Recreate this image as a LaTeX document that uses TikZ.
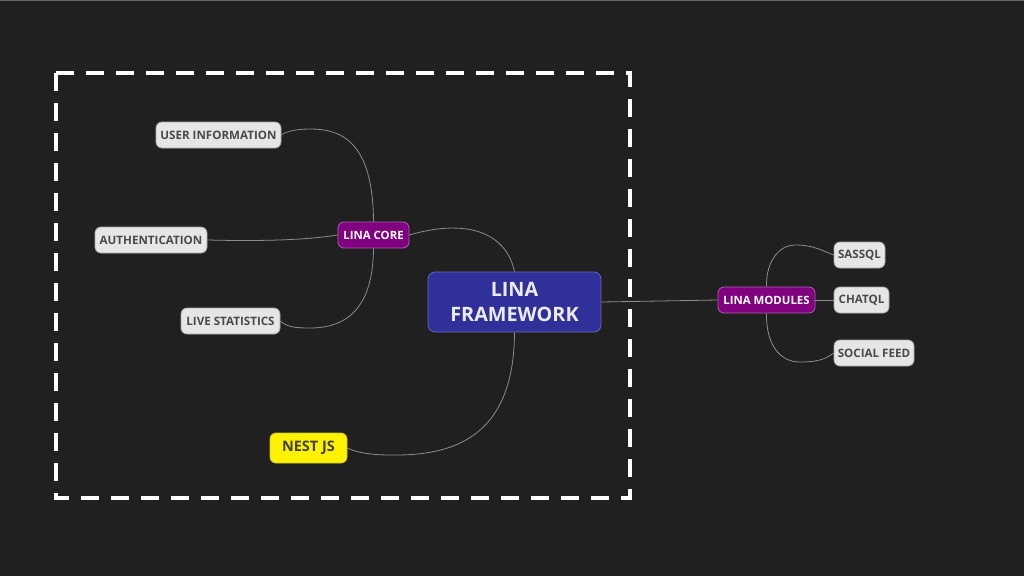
\documentclass[tikz,border=0pt]{standalone}
\usepackage{fontspec}
\setmainfont{Open Sans}
\definecolor{bg}{HTML}{202020}
\definecolor{leaf}{HTML}{E6E6E6}
\definecolor{leaftext}{HTML}{4A4A4A}
\definecolor{leafborder}{HTML}{A8A8A8}
\definecolor{purp}{HTML}{800080}
\definecolor{purpborder}{HTML}{B060B0}
\definecolor{navy}{HTML}{30309A}
\definecolor{navyborder}{HTML}{6868B8}
\definecolor{wire}{HTML}{8C8C8C}
\begin{document}
\begin{tikzpicture}[x=1pt,y=-1pt,
  leafbox/.style={draw=leafborder, line width=0.8pt, fill=leaf, rounded corners=6pt, text=leaftext, font=\bfseries\fontsize{11.6}{13}\selectfont, minimum height=26pt, inner xsep=3pt, inner ysep=0pt},
  hubbox/.style={draw=purpborder, line width=0.8pt, fill=purp, rounded corners=6pt, text=white, font=\bfseries\fontsize{11.4}{13}\selectfont, minimum height=26pt, inner xsep=3pt, inner ysep=0pt},
  rootbox/.style={draw=navyborder, line width=0.8pt, fill=navy, rounded corners=7pt, text=white!92!black, font=\bfseries\fontsize{19.8}{25}\selectfont, align=center, minimum width=173pt, minimum height=60pt, inner sep=0pt},
  nestbox/.style={draw=yellow!80!black, line width=0.8pt, fill=yellow, rounded corners=6pt, text=black!75, font=\bfseries\fontsize{14.5}{16}\selectfont, minimum width=77pt, minimum height=30pt, inner sep=0pt},
  wirestyle/.style={draw=wire, line width=0.8pt},
  framebox/.style={draw=white, line width=4pt, dash pattern=on 18pt off 12pt}
]
\fill[bg] (0,0) rectangle (1024,576);
\useasboundingbox (0,0) rectangle (1024,576);
\draw[line width=1pt, draw=black!60] (0,0.5) -- (1024,0.5);

\draw[framebox] (56,73) rectangle (630,498);

\node[rootbox] (fw) at (514.5,302) {LINA\\FRAMEWORK};
\node[hubbox, minimum width=71pt] (core) at (373.5,235) {LINA CORE};
\node[hubbox, minimum width=97pt] (mods) at (766.5,300) {LINA MODULES};
\node[leafbox, minimum width=125pt] (user) at (218.5,135) {USER INFORMATION};
\node[leafbox, minimum width=112pt] (auth) at (151,240) {AUTHENTICATION};
\node[leafbox, minimum width=99pt] (live) at (230.5,321) {LIVE STATISTICS};
\node[nestbox] (nest) at (308.5,448) {NEST JS};
\node[leafbox, minimum width=51pt] (sas) at (859.5,255) {SASSQL};
\node[leafbox, minimum width=55pt] (chat) at (861.5,300) {CHATQL};
\node[leafbox, minimum width=80pt] (soc) at (874,353) {SOCIAL FEED};

\draw[wirestyle] (core.north) .. controls (373,140) and (340,129) .. (310,129) .. controls (295,129) and (285,132) .. (user.east);
\draw[wirestyle] (core.west) .. controls (300,241) and (250,241) .. (auth.east);
\draw[wirestyle] (core.south) .. controls (373,310) and (345,328) .. (310,328) .. controls (295,328) and (287,327) .. (live.east);
\draw[wirestyle] (core.east) .. controls (460,220) and (505,228) .. (fw.north);
\draw[wirestyle] (fw.south) .. controls (514,440) and (450,456) .. (390,455) .. controls (370,455) and (355,452) .. (nest.east);
\draw[wirestyle] (fw.east) -- (mods.west);
\draw[wirestyle] (mods.north) .. controls (766,260) and (780,245) .. (795,245) .. controls (815,245) and (825,252) .. (sas.west);
\draw[wirestyle] (mods.east) -- (chat.west);
\draw[wirestyle] (mods.south) .. controls (766,345) and (780,362) .. (800,362) .. controls (815,362) and (825,360) .. (soc.west);
\end{tikzpicture}
\end{document}
